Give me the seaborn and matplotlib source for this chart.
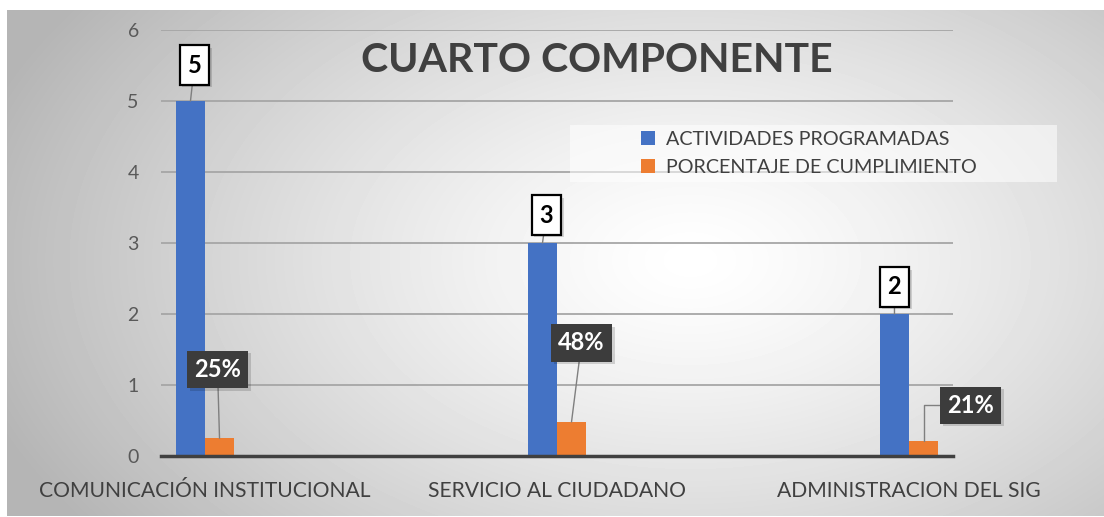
import numpy as np
import pandas as pd
import matplotlib
matplotlib.use("Agg")
import matplotlib.pyplot as plt
import matplotlib.patheffects as pe
import seaborn as sns
from matplotlib.patches import Rectangle

# ---------------- data ----------------
title = "CUARTO COMPONENTE"
categories = ["COMUNICACIÓN INSTITUCIONAL", "SERVICIO AL CIUDADANO", "ADMINISTRACION DEL SIG"]
series = ["ACTIVIDADES PROGRAMADAS", "PORCENTAJE DE CUMPLIMIENTO"]
actividades = [5, 3, 2]
cumplimiento = [0.25, 0.48, 0.21]
cumplimiento_labels = ["25%", "48%", "21%"]
y_ticks = [0, 1, 2, 3, 4, 5, 6]

# ---------------- style ----------------
colors = ["#4472C4", "#ED7D31"]
blue_label_offsets = [(4, 36), (4, 28), (0, 27)]      # pixels
orange_label_offsets = [(-2, 69), (10, 79), (47, 36)]  # pixels
gap_slots = 3

sns.set_theme(style="white")
plt.rcParams["font.family"] = ["Lato", "DejaVu Sans"]

W, H = 1104, 517
fig = plt.figure(figsize=(W / 100, H / 100), dpi=100)
fig.patch.set_facecolor("white")

# radial gradient background
bg = fig.add_axes([7 / W, 1 / H, 1097 / W, 506 / H], zorder=-10)
xx, yy = np.meshgrid(np.arange(7, 1104), np.arange(10, 516))
r = np.sqrt(((xx - 690) / 620) ** 2 + ((yy - 260) / 380) ** 2)
v = 1 - 0.23 * np.clip(r, 0, 1.2) ** 1.3
bg.imshow(v, cmap="gray", vmin=0, vmax=1, aspect="auto", interpolation="bilinear")
bg.axis("off")

ax = fig.add_axes([161 / W, (H - 456) / H, 792 / W, 426 / H])
ax.set_facecolor("none")

# category slots: each real category followed by empty slots
order = []
for i, c in enumerate(categories):
    order.append(c)
    if i < len(categories) - 1:
        order += [" " * (i * gap_slots + k + 1) for k in range(gap_slots)]

df = pd.DataFrame({
    "cat": categories * 2,
    "serie": [series[0]] * len(categories) + [series[1]] * len(categories),
    "valor": actividades + cumplimiento,
})

sns.barplot(data=df, x="cat", y="valor", hue="serie", order=order, hue_order=series,
            palette=colors, width=0.66, saturation=1, errorbar=None, ax=ax, legend=True,
            linewidth=0, edgecolor="none")

handles, labels = ax.get_legend_handles_labels()
if ax.get_legend() is not None:
    ax.get_legend().remove()

n = len(order)
ax.set_xlim(-0.5, n - 0.5)
ax.set_ylim(0, 6)
ax.set_yticks(y_ticks)
ax.set_yticklabels([str(t) for t in y_ticks], fontsize=14, color="#595959")
ax.tick_params(axis="y", length=0, pad=16)

ax.set_xticks(np.arange(-0.5, n, 1.0))
ax.set_xticklabels([])
ax.tick_params(axis="x", which="major", length=7, width=2, color="#404040", direction="out")
ax.set_xticks([order.index(c) for c in categories], minor=True)
ax.set_xticklabels(categories, minor=True, fontsize=15.2, color="#404040")
ax.tick_params(axis="x", which="minor", length=0, pad=18)
ax.set_xlabel("")
ax.set_ylabel("")

ax.yaxis.grid(True, color="#a6a6a6", lw=1.3)
ax.xaxis.grid(False)
ax.set_axisbelow(True)
for s in ["top", "right", "left"]:
    ax.spines[s].set_visible(False)
ax.spines["bottom"].set_color("#404040")
ax.spines["bottom"].set_linewidth(2.5)

shadow = [pe.SimplePatchShadow(offset=(2, -2), shadow_rgbFace="black", alpha=0.15), pe.Normal()]

# data labels
for bar, val, off in zip(ax.containers[0], actividades, blue_label_offsets):
    x = bar.get_x() + bar.get_width() / 2
    y = bar.get_height()
    ann = ax.annotate(str(val), xy=(x, y), xytext=off, textcoords="offset pixels",
                      ha="center", va="center", fontsize=17, fontweight="bold", color="black",
                      bbox=dict(boxstyle="square,pad=0.34", fc="white", ec="black", lw=1.6),
                      arrowprops=dict(arrowstyle="-", color="#7f7f7f", lw=1, shrinkA=0, shrinkB=0),
                      annotation_clip=False, zorder=6)
    ann.get_bbox_patch().set_path_effects(shadow)

for bar, lab, off in zip(ax.containers[1], cumplimiento_labels, orange_label_offsets):
    x = bar.get_x() + bar.get_width() / 2
    y = bar.get_height()
    conn = "angle,angleA=0,angleB=90,rad=0" if off[0] > 30 else "arc3"
    ann = ax.annotate(lab, xy=(x, y), xytext=off, textcoords="offset pixels",
                      ha="center", va="center", fontsize=17, fontweight="bold", color="white",
                      bbox=dict(boxstyle="square,pad=0.3", fc="#3c3c3c", ec="none"),
                      arrowprops=dict(arrowstyle="-", color="#7f7f7f", lw=1, shrinkA=0, shrinkB=0,
                                      connectionstyle=conn),
                      annotation_clip=False, zorder=6)
    ann.get_bbox_patch().set_path_effects(shadow)

# legend
ax.add_patch(Rectangle((570 / W, 1 - 182 / H), 487 / W, 57 / H, transform=fig.transFigure,
                       fc="white", alpha=0.55, ec="none", zorder=1.5, clip_on=False))
ax.legend(handles, labels, loc="upper left", bbox_to_anchor=(641 / W, 1 - 131 / H),
          bbox_transform=fig.transFigure, frameon=False, fontsize=14.2,
          handlelength=0.7, handleheight=0.7, handletextpad=0.55, labelspacing=0.55,
          borderpad=0, borderaxespad=0, labelcolor="#404040")

fig.text(597 / W, 1 - 60 / H, title, ha="center", va="center", fontsize=29.5,
         fontweight="bold", color="#404040")

fig.savefig("out.png", dpi=100)
